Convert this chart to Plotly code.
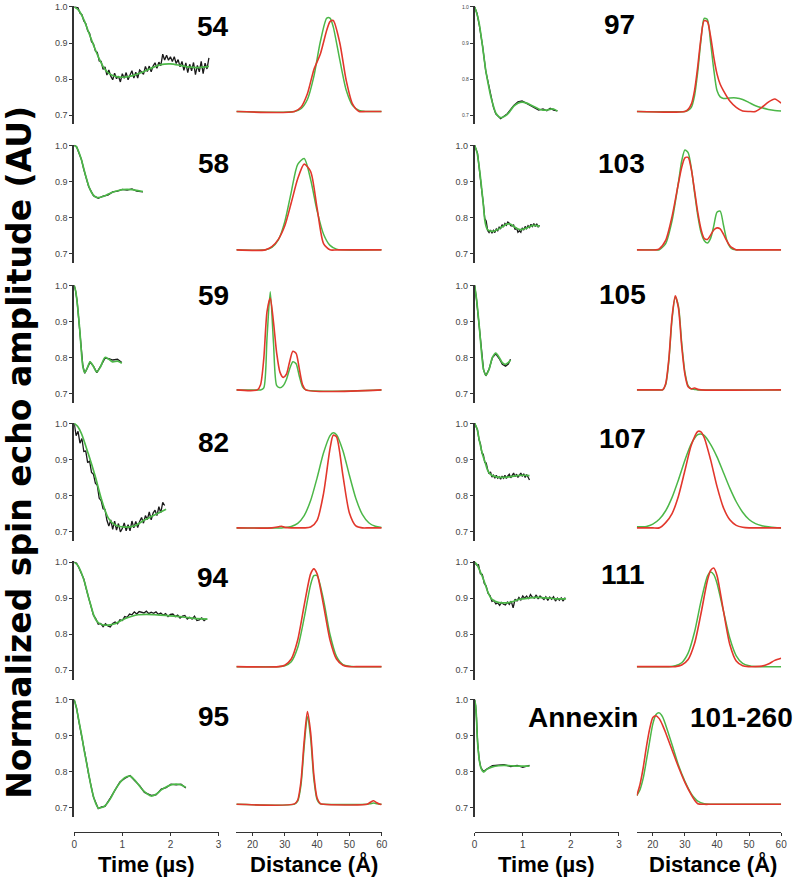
import plotly.graph_objects as go

# ---------------- time-domain data (fits and experimental traces) ----------------
t54 = [0, 0.1, 0.2, 0.3, 0.4, 0.5, 0.6, 0.7, 0.8, 0.9, 1.0, 1.2, 1.4, 1.6, 1.8, 2.0, 2.2, 2.4, 2.6, 2.8]
fit54 = [1.0, 0.99, 0.965, 0.93, 0.895, 0.862, 0.835, 0.818, 0.81, 0.806, 0.805, 0.809, 0.818, 0.83, 0.84, 0.842, 0.838, 0.833, 0.832, 0.835]
dt54 = 0.04
dat54 = [1.0, 1.0, 0.998, 0.983, 0.979, 0.961, 0.954, 0.934, 0.927, 0.904, 0.898, 0.878, 0.874, 0.85, 0.849, 0.827,
         0.834, 0.811, 0.825, 0.808, 0.798, 0.816, 0.801, 0.808, 0.792, 0.815, 0.802, 0.818, 0.798, 0.811, 0.823, 0.803,
         0.819, 0.803, 0.825, 0.82, 0.813, 0.835, 0.821, 0.836, 0.82, 0.836, 0.845, 0.83, 0.847, 0.837, 0.869, 0.853,
         0.866, 0.852, 0.862, 0.849, 0.862, 0.843, 0.854, 0.834, 0.849, 0.824, 0.845, 0.818, 0.841, 0.823, 0.846, 0.812,
         0.838, 0.82, 0.849, 0.815, 0.844, 0.828, 0.859]

t58 = [0, 0.05, 0.1, 0.15, 0.2, 0.25, 0.3, 0.35, 0.4, 0.45, 0.5, 0.6, 0.7, 0.8, 0.9, 1.0, 1.1, 1.2, 1.3, 1.43]
fit58 = [1.0, 0.995, 0.98, 0.96, 0.935, 0.91, 0.888, 0.872, 0.862, 0.856, 0.855, 0.858, 0.864, 0.87, 0.874, 0.877, 0.878, 0.877, 0.875, 0.872]
dat58 = [1.0, 0.996, 0.978, 0.961, 0.933, 0.911, 0.886, 0.873, 0.86, 0.857, 0.853, 0.859, 0.862, 0.871, 0.873, 0.878, 0.876, 0.879, 0.873, 0.871]

t59 = [0, 0.03, 0.06, 0.09, 0.12, 0.15, 0.18, 0.22, 0.27, 0.33, 0.4, 0.47, 0.55, 0.64, 0.72, 0.8, 0.9, 0.99]
fit59 = [1.0, 0.985, 0.955, 0.915, 0.87, 0.815, 0.775, 0.758, 0.77, 0.788, 0.775, 0.76, 0.775, 0.80, 0.795, 0.788, 0.79, 0.784]
dat59 = [1.0, 0.984, 0.957, 0.913, 0.872, 0.813, 0.777, 0.756, 0.771, 0.787, 0.776, 0.758, 0.776, 0.798, 0.797, 0.793, 0.795, 0.786]

t82 = [0, 0.07, 0.15, 0.29, 0.44, 0.57, 0.71, 0.85, 1.05, 1.26, 1.46, 1.67, 1.91]
fit82 = [1.0, 0.992, 0.972, 0.917, 0.852, 0.788, 0.737, 0.718, 0.712, 0.716, 0.732, 0.746, 0.762]
dt82 = 0.04
dat82 = [1.0, 0.966, 0.978, 0.945, 0.958, 0.922, 0.923, 0.891, 0.896, 0.864, 0.859, 0.834, 0.828, 0.792, 0.786, 0.763,
         0.761, 0.731, 0.715, 0.732, 0.706, 0.729, 0.704, 0.722, 0.699, 0.708, 0.724, 0.702, 0.719, 0.702, 0.729, 0.71,
         0.728, 0.711, 0.728, 0.739, 0.723, 0.744, 0.733, 0.754, 0.732, 0.751, 0.759, 0.744, 0.769, 0.752, 0.781, 0.772]

t94 = [0, 0.08, 0.15, 0.22, 0.29, 0.35, 0.4, 0.45, 0.5, 0.57, 0.64, 0.75, 0.85, 0.95, 1.05, 1.2, 1.33, 1.5, 1.67, 1.9, 2.08, 2.3, 2.49, 2.77]
fit94 = [1.0, 0.99, 0.97, 0.943, 0.906, 0.878, 0.855, 0.84, 0.832, 0.827, 0.825, 0.826, 0.829, 0.836, 0.843, 0.85, 0.854, 0.855, 0.854, 0.852, 0.85, 0.847, 0.844, 0.842]
dt94 = 0.05
dat94 = [1.0, 0.997, 0.984, 0.967, 0.953, 0.926, 0.902, 0.875, 0.853, 0.843, 0.828, 0.83, 0.821, 0.829, 0.823, 0.82,
         0.83, 0.834, 0.829, 0.84, 0.838, 0.849, 0.847, 0.856, 0.854, 0.862, 0.856, 0.863, 0.861, 0.859, 0.864, 0.857,
         0.861, 0.858, 0.862, 0.855, 0.859, 0.853, 0.857, 0.849, 0.855, 0.856, 0.849, 0.853, 0.845, 0.85, 0.852, 0.842,
         0.847, 0.842, 0.85, 0.838, 0.84, 0.845, 0.838, 0.843]

t95 = [0, 0.05, 0.1, 0.164, 0.2, 0.25, 0.3, 0.35, 0.4, 0.45, 0.5, 0.57, 0.64, 0.75, 0.85, 0.95, 1.05, 1.16, 1.26, 1.36, 1.46, 1.6, 1.7, 1.81, 1.91, 2.01, 2.12, 2.22, 2.32]
fit95 = [1.0, 0.975, 0.94, 0.895, 0.865, 0.83, 0.795, 0.76, 0.732, 0.712, 0.70, 0.701, 0.706, 0.725, 0.75, 0.77, 0.784, 0.788, 0.777, 0.76, 0.745, 0.733, 0.738, 0.75, 0.758, 0.764, 0.766, 0.764, 0.757]
dat95 = [1.0, 0.977, 0.938, 0.896, 0.863, 0.832, 0.793, 0.762, 0.73, 0.714, 0.698, 0.703, 0.704, 0.727, 0.748, 0.772, 0.782, 0.79, 0.775, 0.762, 0.743, 0.735, 0.736, 0.752, 0.756, 0.766, 0.764, 0.766, 0.755]

t97 = [0, 0.05, 0.096, 0.166, 0.23, 0.285, 0.335, 0.39, 0.44, 0.54, 0.68, 0.814, 0.9, 0.985, 1.07, 1.155, 1.24, 1.33, 1.42, 1.5, 1.57, 1.64, 1.72]
fit97 = [1.0, 0.98, 0.953, 0.889, 0.825, 0.785, 0.752, 0.725, 0.706, 0.693, 0.702, 0.725, 0.733, 0.736, 0.734, 0.729, 0.723, 0.717, 0.714, 0.714, 0.716, 0.717, 0.711]
dat97 = [1.0, 0.982, 0.95, 0.891, 0.823, 0.787, 0.749, 0.722, 0.703, 0.69, 0.704, 0.727, 0.737, 0.739, 0.733, 0.727, 0.72, 0.714, 0.717, 0.712, 0.719, 0.714, 0.712]

t103 = [0, 0.05, 0.096, 0.13, 0.166, 0.19, 0.213, 0.24, 0.267, 0.33, 0.404, 0.47, 0.54, 0.61, 0.68, 0.75, 0.814, 0.88, 0.95, 1.02, 1.09, 1.155, 1.22, 1.29, 1.35]
fit103 = [1.0, 0.98, 0.938, 0.9, 0.855, 0.822, 0.791, 0.774, 0.766, 0.762, 0.762, 0.766, 0.771, 0.777, 0.782, 0.781, 0.775, 0.769, 0.766, 0.768, 0.771, 0.775, 0.778, 0.777, 0.775]
dt103 = 0.03
dat103 = [1.0, 0.988, 0.978, 0.943, 0.914, 0.872, 0.84, 0.797, 0.79, 0.764, 0.758, 0.765, 0.756, 0.764, 0.758, 0.768,
          0.763, 0.773, 0.769, 0.78, 0.775, 0.783, 0.778, 0.787, 0.784, 0.777, 0.776, 0.779, 0.766, 0.771, 0.759, 0.763,
          0.759, 0.771, 0.765, 0.775, 0.769, 0.777, 0.772, 0.781, 0.775, 0.783, 0.775, 0.782, 0.774, 0.778]

t105 = [0, 0.04, 0.096, 0.144, 0.185, 0.233, 0.3, 0.37, 0.44, 0.51, 0.575, 0.643, 0.7, 0.746]
fit105 = [1.0, 0.961, 0.887, 0.813, 0.767, 0.751, 0.767, 0.8, 0.812, 0.8, 0.786, 0.781, 0.786, 0.793]
dat105 = [1.0, 0.96, 0.885, 0.812, 0.766, 0.749, 0.768, 0.8, 0.81, 0.797, 0.781, 0.776, 0.782, 0.795]

t107 = [0, 0.05, 0.096, 0.13, 0.166, 0.213, 0.267, 0.32, 0.37, 0.472, 0.58, 0.68, 0.78, 0.884, 1.0, 1.14]
fit107 = [1.0, 0.985, 0.954, 0.933, 0.913, 0.894, 0.871, 0.86, 0.855, 0.851, 0.85, 0.851, 0.853, 0.855, 0.856, 0.855]
dt107 = 0.03
dat107 = [1.0, 0.99, 0.982, 0.955, 0.944, 0.918, 0.914, 0.892, 0.89, 0.872, 0.86, 0.865, 0.851, 0.856, 0.848, 0.856,
          0.848, 0.852, 0.845, 0.854, 0.848, 0.856, 0.847, 0.854, 0.859, 0.849, 0.855, 0.862, 0.852, 0.859, 0.85, 0.858,
          0.862, 0.853, 0.86, 0.85, 0.858, 0.851, 0.843]

t111 = [0, 0.05, 0.096, 0.185, 0.267, 0.35, 0.47, 0.58, 0.68, 0.78, 0.884, 1.0, 1.155, 1.3, 1.43, 1.56, 1.7, 1.9]
fit111 = [1.0, 0.993, 0.98, 0.952, 0.92, 0.898, 0.889, 0.887, 0.887, 0.89, 0.895, 0.898, 0.901, 0.902, 0.901, 0.9, 0.898, 0.898]
dt111 = 0.04
dat111 = [1.0, 0.992, 0.993, 0.968, 0.966, 0.941, 0.934, 0.913, 0.907, 0.891, 0.894, 0.884, 0.887, 0.88, 0.888, 0.883,
          0.881, 0.889, 0.883, 0.892, 0.873, 0.897, 0.892, 0.902, 0.895, 0.906, 0.9, 0.906, 0.898, 0.91, 0.903, 0.9,
          0.909, 0.898, 0.906, 0.902, 0.896, 0.904, 0.894, 0.903, 0.897, 0.904, 0.892, 0.9, 0.894, 0.901, 0.892, 0.902]

tAnx = [0, 0.02, 0.037, 0.062, 0.096, 0.13, 0.185, 0.253, 0.37, 0.5, 0.61, 0.75, 0.884, 1.0, 1.14]
fitAnx = [1.0, 0.985, 0.953, 0.88, 0.834, 0.811, 0.8, 0.807, 0.814, 0.817, 0.818, 0.817, 0.816, 0.816, 0.816]
datAnx = [1.0, 0.984, 0.952, 0.882, 0.833, 0.812, 0.801, 0.808, 0.817, 0.819, 0.82, 0.815, 0.818, 0.813, 0.818]

# ---------------- distance distributions (green, red), baseline = 0 ----------------
d54 = [15, 33, 35, 37, 39, 41, 43, 44, 45, 47, 49, 51, 53, 55, 60]
g54 = [0, 0, 0.026, 0.115, 0.336, 0.667, 0.894, 0.894, 0.81, 0.498, 0.206, 0.058, 0.011, 0, 0]
r54 = [0, 0, 0.04, 0.17, 0.40, 0.55, 0.78, 0.86, 0.87, 0.66, 0.30, 0.07, 0.0, 0, 0]

d58 = [15, 24, 26, 28, 30, 32, 34, 36, 38, 40, 42, 44, 46, 48, 60]
g58 = [0, 0, 0.024, 0.095, 0.27, 0.553, 0.819, 0.874, 0.673, 0.373, 0.15, 0.043, 0.007, 0, 0]
r58 = [0, 0, 0.03, 0.10, 0.23, 0.45, 0.68, 0.82, 0.75, 0.40, 0.06, 0, 0, 0, 0]

d59 = [15, 21.5, 22.5, 23.5, 24.5, 25.5, 26.5, 27.5, 28.5, 29.5, 30.5, 31.5, 32.5, 33.5, 34.5, 35.5, 36.5, 60]
g59 = [0, 0, 0, 0.02, 0.5, 0.94, 0.45, 0.04, 0.02, 0.04, 0.1, 0.2, 0.27, 0.25, 0.13, 0.03, 0, 0]
r59 = [0, 0, 0.05, 0.3, 0.75, 0.88, 0.65, 0.35, 0.17, 0.12, 0.15, 0.27, 0.37, 0.35, 0.2, 0.05, 0, 0]

d82 = [15, 26, 28, 29, 30, 32, 34, 36, 38, 40, 42, 44, 45, 46, 48, 50, 52, 54, 56, 58, 60]
g82 = [0, 0, 0, 0, 0.003, 0.013, 0.043, 0.118, 0.262, 0.479, 0.718, 0.883, 0.91, 0.892, 0.739, 0.503, 0.281, 0.129, 0.049, 0.015, 0.004]
r82 = [0, 0, 0.01, 0.016, 0.005, 0, 0, 0, 0.008, 0.072, 0.33, 0.759, 0.887, 0.872, 0.5, 0.143, 0.02, 0, 0, 0, 0]

d94 = [15, 28, 30, 32, 34, 36, 38, 39, 40, 42, 44, 46, 48, 50, 52, 60]
g94 = [0, 0, 0.008, 0.047, 0.183, 0.466, 0.785, 0.87, 0.87, 0.637, 0.308, 0.098, 0.02, 0.004, 0, 0]
r94 = [0, 0, 0.014, 0.073, 0.255, 0.586, 0.888, 0.936, 0.888, 0.586, 0.255, 0.073, 0.014, 0, 0, 0]

d95 = [15, 33, 34, 35, 36, 37, 38, 39, 40, 41, 42, 55.5, 56.5, 57.5, 58.5, 59.5, 60]
g95 = [0, 0.002, 0.03, 0.182, 0.552, 0.837, 0.634, 0.24, 0.045, 0.004, 0, 0, 0.005, 0.012, 0.005, 0, 0]
r95 = [0, 0.004, 0.041, 0.217, 0.604, 0.887, 0.687, 0.28, 0.06, 0.007, 0, 0, 0.02, 0.034, 0.015, 0, 0]

d97 = [15, 30, 31, 32, 33, 34, 35, 36, 37, 38, 39, 40, 41, 42, 44, 46, 48, 50, 52, 54, 56, 58, 60]
g97 = [0, 0, 0.01, 0.04, 0.15, 0.38, 0.68, 0.89, 0.88, 0.66, 0.4, 0.2, 0.14, 0.125, 0.13, 0.13, 0.115, 0.085, 0.055, 0.035, 0.02, 0.01, 0.005]
r97 = [0, 0, 0.02, 0.07, 0.2, 0.43, 0.7, 0.87, 0.86, 0.72, 0.52, 0.36, 0.26, 0.2, 0.1, 0.04, 0.005, 0, 0, 0.04, 0.09, 0.12, 0.08]

d103 = [15, 21, 22, 24, 26, 28, 29, 30, 31, 32, 33, 34, 35, 36, 37, 38, 39, 40, 41, 42, 43, 44, 45, 46, 47, 60]
g103 = [0, 0, 0, 0.06, 0.28, 0.65, 0.85, 0.955, 0.93, 0.78, 0.55, 0.33, 0.17, 0.09, 0.065, 0.11, 0.23, 0.36, 0.37, 0.24, 0.1, 0.03, 0.005, 0, 0, 0]
r103 = [0, 0, 0.01, 0.09, 0.32, 0.64, 0.79, 0.88, 0.885, 0.77, 0.57, 0.36, 0.2, 0.11, 0.1, 0.14, 0.19, 0.21, 0.2, 0.15, 0.09, 0.04, 0.015, 0, 0, 0]

d105 = [15, 22, 23, 24, 25, 26, 27, 28, 29, 30, 31, 32, 33, 34, 35, 60]
g105 = [0, 0, 0, 0.05, 0.28, 0.68, 0.89, 0.8, 0.45, 0.17, 0.04, 0.01, 0.005, 0, 0, 0]
r105 = [0, 0, 0, 0.06, 0.3, 0.7, 0.9, 0.78, 0.42, 0.15, 0.03, 0.01, 0.018, 0.005, 0, 0]

d107 = [15, 18, 20, 22, 24, 26, 28, 30, 32, 34, 35, 36, 38, 40, 42, 44, 46, 48, 50, 52, 54, 56, 58, 60]
g107 = [0.01, 0.014, 0.036, 0.082, 0.164, 0.292, 0.461, 0.647, 0.806, 0.892, 0.898, 0.885, 0.8, 0.68, 0.53, 0.38, 0.25, 0.15, 0.08, 0.04, 0.02, 0.01, 0.003, 0]
r107 = [0, 0, 0, 0, 0.05, 0.137, 0.306, 0.549, 0.793, 0.923, 0.918, 0.865, 0.653, 0.397, 0.194, 0.077, 0.024, 0.006, 0, 0, 0, 0, 0, 0]

d111 = [15, 25, 27, 29, 31, 33, 35, 37, 38, 39, 40, 42, 44, 46, 48, 50, 52, 54, 56, 58, 60]
g111 = [0, 0, 0.008, 0.037, 0.129, 0.331, 0.624, 0.864, 0.905, 0.88, 0.798, 0.534, 0.271, 0.104, 0.031, 0.008, 0.001, 0, 0, 0, 0]
r111 = [0, 0, 0, 0.015, 0.068, 0.221, 0.506, 0.822, 0.92, 0.944, 0.873, 0.536, 0.211, 0.053, 0.008, 0, 0, 0.005, 0.025, 0.06, 0.08]

dAnx = [15, 16, 17, 18, 19, 20, 21, 22, 23, 24, 26, 28, 30, 32, 33, 34, 36, 38, 40, 60]
gAnx = [0.084, 0.14, 0.25, 0.42, 0.6, 0.77, 0.86, 0.875, 0.84, 0.76, 0.57, 0.373, 0.22, 0.1, 0.06, 0.03, 0.005, 0, 0, 0]
rAnx = [0.084, 0.19, 0.35, 0.55, 0.72, 0.83, 0.848, 0.82, 0.76, 0.685, 0.52, 0.357, 0.21, 0.09, 0.04, 0.005, 0, 0, 0, 0]

# ---------------- labels / ticks ----------------
time_ticks = [0, 1, 2, 3]
dist_ticks = [20, 30, 40, 50, 60]
amp_ticks = [0.7, 0.8, 0.9, 1.0]
amp_ticktext = ["0.7", "0.8", "0.9", "1.0"]


def grid(step, n):
    return [round(i * step, 4) for i in range(n)]


panels = [
    dict(label="54", tf=t54, fit=fit54, td=grid(dt54, len(dat54)), dat=dat54, d=d54, g=g54, r=r54),
    dict(label="58", tf=t58, fit=fit58, td=t58, dat=dat58, d=d58, g=g58, r=r58),
    dict(label="59", tf=t59, fit=fit59, td=t59, dat=dat59, d=d59, g=g59, r=r59),
    dict(label="82", tf=t82, fit=fit82, td=grid(dt82, len(dat82)), dat=dat82, d=d82, g=g82, r=r82),
    dict(label="94", tf=t94, fit=fit94, td=grid(dt94, len(dat94)), dat=dat94, d=d94, g=g94, r=r94),
    dict(label="95", tf=t95, fit=fit95, td=t95, dat=dat95, d=d95, g=g95, r=r95),
    dict(label="97", tf=t97, fit=fit97, td=t97, dat=dat97, d=d97, g=g97, r=r97),
    dict(label="103", tf=t103, fit=fit103, td=grid(dt103, len(dat103)), dat=dat103, d=d103, g=g103, r=r103),
    dict(label="105", tf=t105, fit=fit105, td=t105, dat=dat105, d=d105, g=g105, r=r105),
    dict(label="107", tf=t107, fit=fit107, td=grid(dt107, len(dat107)), dat=dat107, d=d107, g=g107, r=r107),
    dict(label="111", tf=t111, fit=fit111, td=grid(dt111, len(dat111)), dat=dat111, d=d111, g=g111, r=r111),
    dict(label=None, tf=tAnx, fit=fitAnx, td=tAnx, dat=datAnx, d=dAnx, g=gAnx, r=rAnx),
]

W, H = 800, 877
ROW_TOP = [3.0, 142.0, 282.7, 421.3, 560.7, 699.0]   # pixel row of the 1.0 tick
PXU = 362.0                                        # pixels per amplitude unit
YR = [0.674, 1.002]
BASE = 0.71
DR = [(YR[0] - BASE) / (1 - BASE), (YR[1] - BASE) / (1 - BASE)]
XT = [[72, 218], [477, 623]]
XD = [[236, 383], [641, 787]]
XAX_Y = 832.0

GREEN = "#4cb748"
RED = "#e2372c"
BLACK = "#1a1a1a"
AXC = "#333333"
TICKC = "#444444"

fig = go.Figure()
layout = dict(width=W, height=H, margin=dict(l=0, r=0, t=0, b=0),
              paper_bgcolor="white", plot_bgcolor="white", showlegend=False)


def nm(prefix, n):
    return prefix if n == 1 else f"{prefix}{n}"


for k, p in enumerate(panels):
    col, row = divmod(k, 6)
    top = ROW_TOP[row] - (YR[1] - 1.0) * PXU
    bot = ROW_TOP[row] + (1.0 - YR[0]) * PXU
    ydom = [1 - bot / H, 1 - top / H]
    bottom_row = row == 5
    nt, nd = 2 * k + 1, 2 * k + 2

    xa = dict(domain=[XT[col][0] / W, XT[col][1] / W], range=[0, 3], showgrid=False, zeroline=False)
    if bottom_row:
        xa.update(anchor="free", position=1 - XAX_Y / H, showline=True, linecolor=AXC, linewidth=1.3,
                  ticks="outside", ticklen=3, tickcolor=AXC, tickvals=time_ticks,
                  tickfont=dict(family="Liberation Sans", size=10, color=TICKC))
    else:
        xa.update(anchor=nm("y", nt), visible=False)
    ya = dict(domain=ydom, range=YR, anchor=nm("x", nt), showgrid=False, zeroline=False,
              showline=True, linecolor=AXC, linewidth=1.5, ticks="outside", ticklen=3, tickcolor=AXC,
              tickvals=amp_ticks, ticktext=amp_ticktext,
              tickfont=dict(family="Liberation Sans", size=5 if p["label"] == "97" else 9, color=TICKC))
    layout[nm("xaxis", nt)] = xa
    layout[nm("yaxis", nt)] = ya

    xb = dict(domain=[XD[col][0] / W, XD[col][1] / W], range=[15, 60], showgrid=False, zeroline=False)
    if bottom_row:
        xb.update(anchor="free", position=1 - XAX_Y / H, showline=True, linecolor=AXC, linewidth=1.3,
                  ticks="outside", ticklen=3, tickcolor=AXC, tickvals=dist_ticks,
                  tickfont=dict(family="Liberation Sans", size=10, color=TICKC))
    else:
        xb.update(anchor=nm("y", nd), visible=False)
    yb = dict(domain=ydom, range=DR, anchor=nm("x", nd), visible=False)
    layout[nm("xaxis", nd)] = xb
    layout[nm("yaxis", nd)] = yb

    fig.add_trace(go.Scatter(x=p["td"], y=p["dat"], mode="lines", line=dict(color=BLACK, width=1.3),
                             xaxis=nm("x", nt), yaxis=nm("y", nt), hoverinfo="skip"))
    fig.add_trace(go.Scatter(x=p["tf"], y=p["fit"], mode="lines",
                             line=dict(color=GREEN, width=1.7, shape="spline", smoothing=0.8),
                             xaxis=nm("x", nt), yaxis=nm("y", nt), hoverinfo="skip"))
    fig.add_trace(go.Scatter(x=p["d"], y=p["g"], mode="lines",
                             line=dict(color=GREEN, width=1.5, shape="spline", smoothing=0.7),
                             xaxis=nm("x", nd), yaxis=nm("y", nd), hoverinfo="skip"))
    fig.add_trace(go.Scatter(x=p["d"], y=p["r"], mode="lines",
                             line=dict(color=RED, width=1.6, shape="spline", smoothing=0.7),
                             xaxis=nm("x", nd), yaxis=nm("y", nd), hoverinfo="skip"))

fig.update_layout(**layout)

# ---------------- annotations ----------------
NUMFONT = dict(family="Liberation Sans", size=28, color="black")
label_pos = {
    "54": (231, 23, "right"), "58": (231, 160, "right"), "59": (231, 293, "right"),
    "82": (231, 441, "right"), "94": (231, 576, "right"), "95": (231, 716, "right"),
    "97": (624, 21, "center"), "103": (626, 160, "center"), "105": (627, 292, "center"),
    "107": (627, 436, "center"), "111": (627, 573, "center"),
}
ann = []
for txt, (x, y, xa) in label_pos.items():
    ann.append(dict(text=f"<b>{txt}</b>", x=x / W, y=1 - y / H, xref="paper", yref="paper",
                    xanchor=xa, yanchor="middle", showarrow=False, font=NUMFONT))
ann.append(dict(text="<b>Annexin</b>", x=587 / W, y=1 - 717 / H, xref="paper", yref="paper",
                xanchor="center", yanchor="middle", showarrow=False, font=NUMFONT))
ann.append(dict(text="<b>101-260</b>", x=747 / W, y=1 - 717 / H, xref="paper", yref="paper",
                xanchor="center", yanchor="middle", showarrow=False, font=NUMFONT))

AXTFONT = dict(family="Liberation Sans", size=22, color="black")
for txt, x in [("Time (µs)", 145), ("Distance (Å)", 315), ("Time (µs)", 550), ("Distance (Å)", 718)]:
    ann.append(dict(text=f"<b>{txt}</b>", x=x / W, y=1 - 864 / H, xref="paper", yref="paper",
                    xanchor="center", yanchor="middle", showarrow=False, font=AXTFONT))

ann.append(dict(text="<b>Normalized spin echo amplitude (AU)</b>", x=17 / W, y=1 - 450 / H,
                xref="paper", yref="paper", xanchor="center", yanchor="middle", textangle=-90,
                showarrow=False, font=dict(family="DejaVu Sans", size=33, color="black")))

fig.update_layout(annotations=ann)
fig.write_html("out.html", config={"displayModeBar": False},
               post_script="document.body.style.margin='0';document.body.style.padding='0';"
                           "document.documentElement.style.overflow='hidden';")
